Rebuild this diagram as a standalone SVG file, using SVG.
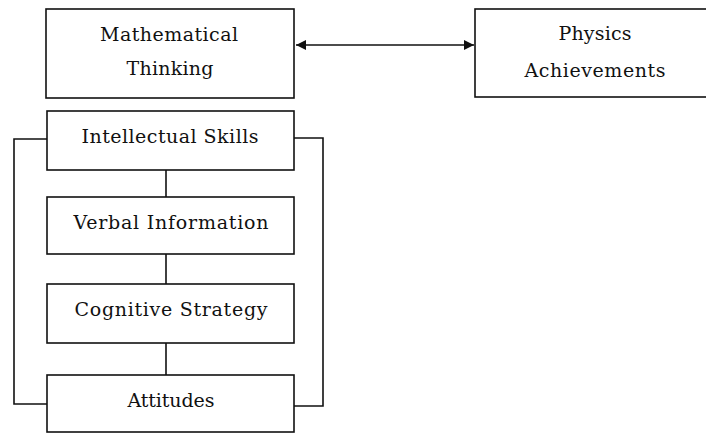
<svg xmlns="http://www.w3.org/2000/svg" width="706" height="434" viewBox="0 0 706 434">
<style>
.box{fill:#fff;stroke:#111;stroke-width:1.6}
.ln{fill:none;stroke:#111;stroke-width:1.6}
text{font-family:"DejaVu Serif","Liberation Serif",serif;font-size:19px;fill:#111;text-anchor:middle}
</style>
<defs>
<marker id="ah" viewBox="0 0 10 10" refX="10" refY="5" markerWidth="12" markerHeight="10" markerUnits="userSpaceOnUse" orient="auto-start-reverse">
<path d="M0,0 L10,5 L0,10 Z" fill="#111"/>
</marker>
</defs>
<g id="connectors">
<line class="ln" x1="296" y1="45" x2="474" y2="45" marker-start="url(#ah)" marker-end="url(#ah)"/>
<path class="ln" d="M47,139 H14 V404 H47"/>
<path class="ln" d="M294,138 H323 V406 H294"/>
<line class="ln" x1="166" y1="170" x2="166" y2="197"/>
<line class="ln" x1="166" y1="254" x2="166" y2="284"/>
<line class="ln" x1="166" y1="343" x2="166" y2="375"/>
</g>
<g id="math">
<rect class="box" x="46" y="9" width="248" height="89"/>
<text x="169" y="41" textLength="138" lengthAdjust="spacing">Mathematical</text>
<text x="170" y="75" textLength="87" lengthAdjust="spacing">Thinking</text>
</g>
<g id="physics">
<rect class="box" x="475" y="9" width="240" height="88"/>
<text x="595" y="40" textLength="73" lengthAdjust="spacing">Physics</text>
<text x="595" y="77" textLength="141" lengthAdjust="spacing">Achievements</text>
</g>
<g id="intellectual">
<rect class="box" x="47" y="111" width="247" height="59"/>
<text x="170" y="143" textLength="177" lengthAdjust="spacing">Intellectual  Skills</text>
</g>
<g id="verbal">
<rect class="box" x="47" y="197" width="247" height="57"/>
<text x="171" y="229" textLength="195" lengthAdjust="spacing">Verbal Information</text>
</g>
<g id="cognitive">
<rect class="box" x="47" y="284" width="247" height="59"/>
<text x="171" y="316" textLength="193" lengthAdjust="spacing">Cognitive  Strategy</text>
</g>
<g id="attitudes">
<rect class="box" x="47" y="375" width="247" height="57"/>
<text x="171" y="407" textLength="87" lengthAdjust="spacing">Attitudes</text>
</g>
</svg>
